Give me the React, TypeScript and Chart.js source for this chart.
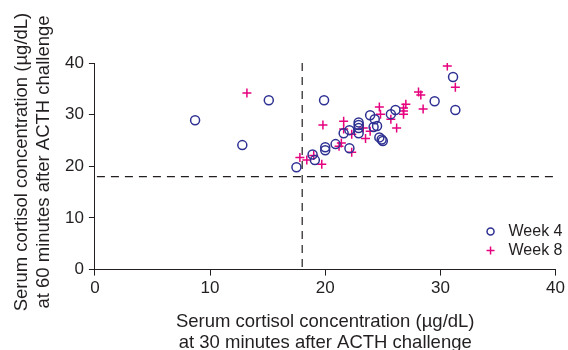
import React, { useEffect, useRef } from "react";
import { Chart, registerables } from "chart.js";

Chart.register(...registerables);

const week4X = [8.7, 12.8, 15.1, 19.9, 17.5, 18.9, 19.1, 20.0, 20.0, 20.9, 21.6, 22.1, 22.1, 22.9, 22.9, 22.9, 22.9, 23.9, 24.3, 24.2, 24.5, 24.7, 24.9, 25.0, 25.7, 26.1, 29.5, 31.1, 31.3];
const week4Y = [28.9, 24.1, 32.8, 32.8, 19.8, 22.3, 21.2, 23.7, 23.1, 24.3, 26.4, 27.0, 23.5, 28.5, 28.0, 27.4, 26.4, 29.9, 29.1, 27.6, 27.8, 25.6, 25.2, 24.9, 30.1, 30.9, 32.6, 37.3, 30.9];
const week8X = [13.2, 19.8, 17.8, 18.4, 19.0, 19.7, 21.2, 21.4, 22.3, 21.6, 21.6, 22.3, 23.3, 23.5, 23.9, 24.7, 24.8, 25.7, 26.2, 26.8, 26.8, 26.8, 27.0, 28.1, 28.3, 28.5, 30.6, 31.3];
const week8Y = [34.2, 28.0, 21.7, 21.2, 22.1, 20.4, 23.9, 24.5, 22.7, 28.7, 27.2, 26.2, 27.4, 25.4, 26.8, 31.5, 30.1, 29.1, 27.4, 30.1, 30.7, 31.3, 32.0, 34.4, 33.8, 31.1, 39.4, 35.3];
const seriesNames = ["Week 4", "Week 8"];
const cutoffX = 18;
const cutoffY = 18;
const xTitle = ["Serum cortisol concentration (\u00b5g/dL)", "at 30 minutes after ACTH challenge"];
const yTitle = ["Serum cortisol concentration (\u00b5g/dL)", "at 60 minutes after ACTH challenge"];

const NAVY = "#2e3192";
const MAGENTA = "#e6007e";
const INK = "#231f20";
const FONT = "'Liberation Sans', Arial, sans-serif";

export default function App() {
  const ref = useRef<HTMLCanvasElement>(null);
  useEffect(() => {
    document.body.style.margin = "0";
    const canvas = ref.current!;
    const overlayPlugin = {
      id: "overlay",
      afterDatasetsDraw(chart: any) {
        const { ctx, scales, chartArea } = chart;
        const xs = scales.x, ys = scales.y;
        ctx.save();
        // cutoff lines
        ctx.strokeStyle = INK;
        ctx.lineWidth = 1.2;
        ctx.setLineDash([8, 6]);
        const px = xs.getPixelForValue(cutoffX);
        const py = ys.getPixelForValue(cutoffY);
        ctx.beginPath();
        ctx.moveTo(px, chartArea.top);
        ctx.lineTo(px, chartArea.bottom);
        ctx.stroke();
        ctx.beginPath();
        ctx.moveTo(chartArea.left + 2, py);
        ctx.lineTo(chartArea.right, py);
        ctx.stroke();
        ctx.setLineDash([]);
        // legend
        const lx = chartArea.right - 65;
        const ly1 = chartArea.bottom - 38;
        const ly2 = chartArea.bottom - 19;
        ctx.lineWidth = 1.5;
        ctx.strokeStyle = NAVY;
        ctx.beginPath();
        ctx.arc(lx, ly1, 3.5, 0, Math.PI * 2);
        ctx.stroke();
        ctx.strokeStyle = MAGENTA;
        ctx.beginPath();
        ctx.moveTo(lx - 4, ly2);
        ctx.lineTo(lx + 4, ly2);
        ctx.moveTo(lx, ly2 - 4);
        ctx.lineTo(lx, ly2 + 4);
        ctx.stroke();
        ctx.fillStyle = INK;
        ctx.font = "16px " + FONT;
        ctx.textBaseline = "middle";
        ctx.textAlign = "left";
        ctx.fillText(seriesNames[0], lx + 18, ly1);
        ctx.fillText(seriesNames[1], lx + 18, ly2);
        // axis titles
        ctx.font = "18.5px " + FONT;
        ctx.textAlign = "center";
        ctx.textBaseline = "alphabetic";
        const cx = (chartArea.left + chartArea.right) / 2;
        ctx.fillText(xTitle[0], cx, 327);
        ctx.fillText(xTitle[1], cx, 348);
        ctx.save();
        ctx.translate(0, 162);
        ctx.rotate(-Math.PI / 2);
        ctx.fillText(yTitle[0], 0, 27);
        ctx.fillText(yTitle[1], 0, 48.5);
        ctx.restore();
        ctx.restore();
      },
    };
    const toPts = (xs: number[], ys: number[]) => xs.map((x, i) => ({ x, y: ys[i] }));
    const chart = new Chart(canvas, {
      type: "scatter",
      data: {
        datasets: [
          {
            label: seriesNames[0],
            data: toPts(week4X, week4Y),
            pointStyle: "circle",
            pointRadius: 4.5,
            pointBorderWidth: 1.5,
            pointBorderColor: NAVY,
            pointBackgroundColor: "rgba(0,0,0,0)",
          },
          {
            label: seriesNames[1],
            data: toPts(week8X, week8Y),
            pointStyle: "cross",
            pointRadius: 4.5,
            pointBorderWidth: 1.5,
            pointBorderColor: MAGENTA,
            pointBackgroundColor: MAGENTA,
          },
        ],
      },
      options: {
        animation: false,
        responsive: false,
        devicePixelRatio: 1,
        layout: { padding: { left: 60, right: 12, top: 63, bottom: 48 } },
        plugins: { legend: { display: false }, tooltip: { enabled: false } },
        scales: {
          x: {
            type: "linear",
            min: 0,
            max: 40,
            border: { display: true, color: INK, width: 1 },
            grid: { drawOnChartArea: false, drawTicks: true, tickLength: 6, color: INK },
            ticks: { stepSize: 10, color: INK, font: { size: 17, family: FONT }, padding: 3 },
          },
          y: {
            type: "linear",
            min: 0,
            max: 40,
            border: { display: true, color: INK, width: 1 },
            grid: { drawOnChartArea: false, drawTicks: true, tickLength: 6, color: INK },
            ticks: { stepSize: 10, color: INK, font: { size: 17, family: FONT }, padding: 5 },
          },
        },
      },
      plugins: [overlayPlugin],
    } as any);
    return () => chart.destroy();
  }, []);
  return (
    <div style={{ width: 568, height: 350 }}>
      <canvas ref={ref} width={568} height={350} style={{ display: "block" }} />
    </div>
  );
}
